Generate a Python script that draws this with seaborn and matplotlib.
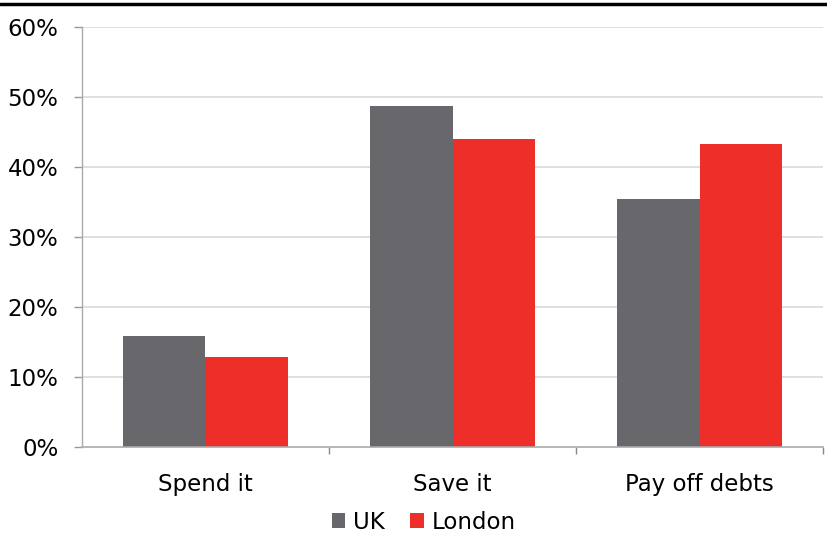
import matplotlib
matplotlib.use("Agg")
import matplotlib.pyplot as plt
from matplotlib.lines import Line2D
from matplotlib.patches import Patch
from matplotlib.ticker import FixedLocator
import seaborn as sns
import pandas as pd

categories = ["Spend it", "Save it", "Pay off debts"]
uk_values = [15.8, 48.8, 35.5]
london_values = [12.9, 44.0, 43.3]
series_names = ["UK", "London"]
colors = ["#68686C", "#EE2E29"]
yticks = [0, 10, 20, 30, 40, 50, 60]

df = pd.DataFrame({
    "category": categories * 2,
    "value": uk_values + london_values,
    "series": [series_names[0]] * 3 + [series_names[1]] * 3,
})

sns.set_theme(style="white")
plt.rcParams["font.family"] = ["DejaVu Sans"]

fig = plt.figure(figsize=(8.28, 5.34), dpi=100)
ax = fig.add_axes([0.099, 0.163, 0.895, 0.786])

sns.barplot(data=df, x="category", y="value", hue="series", palette=colors,
            width=0.668, saturation=1, ax=ax, legend=False, edgecolor="none")

FS = 16.5
ax.set_ylim(0, 60)
ax.set_xlim(-0.5, 2.5)
ax.set_yticks(yticks)
ax.set_yticklabels([f"{t}%" for t in yticks], fontsize=FS, color="#000000")
ax.tick_params(axis="x", labelsize=FS, colors="#000000", length=0, pad=19)
ax.tick_params(axis="y", length=6, width=1, color="#999999", pad=11, left=True)
ax.xaxis.set_minor_locator(FixedLocator([0.5, 1.5, 2.5]))
ax.tick_params(axis="x", which="minor", bottom=True, length=5, width=1, color="#888888")
ax.set_xlabel("")
ax.set_ylabel("")

for t in yticks[1:]:
    ax.axhline(t, color="#D9D9D9", lw=1.2, zorder=0)
ax.set_axisbelow(True)

for s in ["top", "right"]:
    ax.spines[s].set_visible(False)
ax.spines["left"].set_color("#AAAAAA")
ax.spines["left"].set_linewidth(1)
ax.spines["bottom"].set_color("#AAAAAA")
ax.spines["bottom"].set_linewidth(1.2)

handles = [Patch(facecolor=c, edgecolor="none") for c in colors]
leg = fig.legend(handles, series_names, loc="center", bbox_to_anchor=(0.512, 0.022),
                 ncol=2, frameon=False, fontsize=FS, handlelength=0.6, handleheight=0.6,
                 handletextpad=0.35, columnspacing=1.1)
for t in leg.get_texts():
    t.set_color("#000000")

fig.add_artist(Line2D([0, 1], [0.992, 0.992], transform=fig.transFigure,
                      color="black", lw=2.5))

fig.savefig("out.png", dpi=100)
